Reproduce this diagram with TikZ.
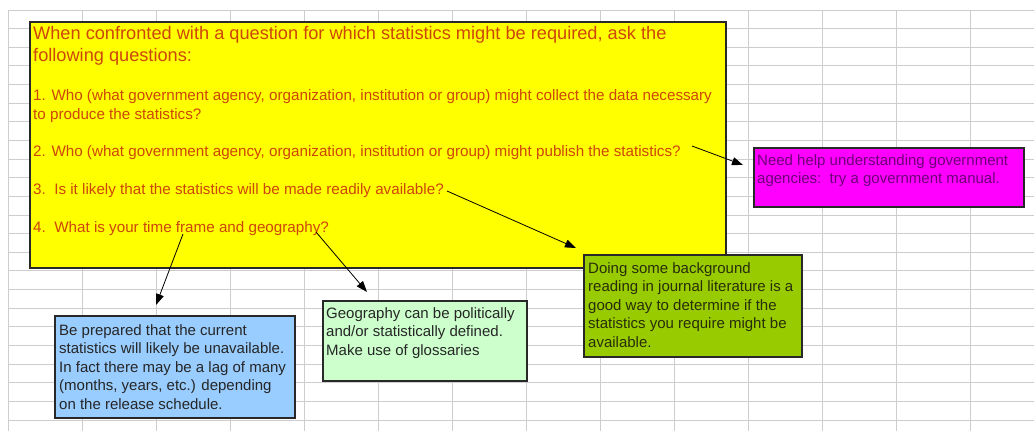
\documentclass[tikz,border=0pt]{standalone}
\usepackage{fontspec}
\setmainfont{Liberation Sans}
\usetikzlibrary{arrows.meta}
\definecolor{gridc}{RGB}{205,205,205}
\definecolor{yellowc}{RGB}{255,255,0}
\definecolor{qtext}{RGB}{205,70,10}
\definecolor{pinkc}{RGB}{255,0,255}
\definecolor{pinktext}{RGB}{110,0,120}
\definecolor{olivec}{RGB}{153,204,0}
\definecolor{olivetext}{RGB}{40,45,10}
\definecolor{mintc}{RGB}{204,255,204}
\definecolor{bluec}{RGB}{153,204,255}
\definecolor{boxline}{RGB}{40,40,40}
\begin{document}
\begin{tikzpicture}[x=1pt,y=-1pt,
  gridline/.style={draw=gridc,line width=1pt},
  note/.style={draw=boxline,line width=1.2pt,anchor=north west,inner sep=0pt,outer sep=0pt},
  head/.style={anchor=base west,inner sep=0pt,text=qtext,font=\fontsize{18.2}{21}\selectfont},
  item/.style={anchor=base west,inner sep=0pt,text=qtext,font=\fontsize{15.2}{18.5}\selectfont},
  small/.style={anchor=base west,inner sep=0pt,font=\fontsize{15}{18.5}\selectfont},
  pointer/.style={draw=black,line width=0.8pt,-{Triangle[length=11pt,width=8pt]}}]
\useasboundingbox (0,0) rectangle (1034,431);
\fill[white] (0,0) rectangle (1034,431);
% spreadsheet grid
\foreach \i in {0,...,13} \draw[gridline] (8+74*\i,10) -- (8+74*\i,431);
\foreach \j in {0,...,22} \draw[gridline] (8,10+18.64*\j) -- (1034,10+18.64*\j);
% boxes
\node[note,fill=yellowc,minimum width=696,minimum height=246] (qbox) at (30,22) {};
\node[note,fill=pinkc,minimum width=270,minimum height=59] (pbox) at (754,148) {};
\node[note,fill=olivec,minimum width=218,minimum height=102] (obox) at (584,255) {};
\node[note,fill=mintc,minimum width=204,minimum height=80] (mbox) at (323,301) {};
\node[note,fill=bluec,minimum width=240,minimum height=102] (bbox) at (55,316) {};
% question text
\node[head] (h1) at (33,39) {When confronted with a question for which statistics might be required, ask the};
\node[head] (h2) at (33,61) {following questions:};
\node[item] (q1a) at (33,100.5) {1. Who (what government agency, organization, institution or group) might collect the data necessary};
\node[item] (q1b) at (33,119.3) {to produce the statistics?};
\node[item] (q2) at (33,156.9) {2. Who (what government agency, organization, institution or group) might publish the statistics?};
\node[item] (q3) at (33,194.5) {3.\ \ Is it likely that the statistics will be made readily available?};
\node[item] (q4) at (33,232.1) {4.\ \ What is your time frame and geography?};
% pink note
\node[small,text=pinktext] (p1) at (757,165) {Need help understanding government};
\node[small,text=pinktext] (p2) at (757,183.5) {agencies:\ \ try a government manual.};
% olive note
\node[small,text=olivetext] (o1) at (588,273) {Doing some background};
\node[small,text=olivetext] (o2) at (588,291.5) {reading in journal literature is a};
\node[small,text=olivetext] (o3) at (588,310) {good way to determine if the};
\node[small,text=olivetext] (o4) at (588,328.5) {statistics you require might be};
\node[small,text=olivetext] (o5) at (588,347) {available.};
% mint note
\node[small,text=black!85] (m1) at (326,318) {Geography can be politically};
\node[small,text=black!85] (m2) at (326,336.5) {and/or statistically defined.};
\node[small,text=black!85] (m3) at (326,355) {Make use of glossaries};
% blue note
\node[small,text=black!85] (b1) at (59,335) {Be prepared that the current};
\node[small,text=black!85] (b2) at (59,353.5) {statistics will likely be unavailable.};
\node[small,text=black!85] (b3) at (59,372) {In fact there may be a lag of many};
\node[small,text=black!85] (b4) at (59,390.5) {(months, years, etc.) depending};
\node[small,text=black!85] (b5) at (59,409) {on the release schedule.};
% pointers
\coordinate (s1) at (692,146); \coordinate (t1) at (743,165);
\coordinate (s2) at (447,191); \coordinate (t2) at (576,248);
\coordinate (s3) at (183,234); \coordinate (t3) at (156,305);
\coordinate (s4) at (316,232); \coordinate (t4) at (367,292);
\draw[pointer] (s1) -- (t1);
\draw[pointer] (s2) -- (t2);
\draw[pointer] (s3) -- (t3);
\draw[pointer] (s4) -- (t4);
\end{tikzpicture}
\end{document}
